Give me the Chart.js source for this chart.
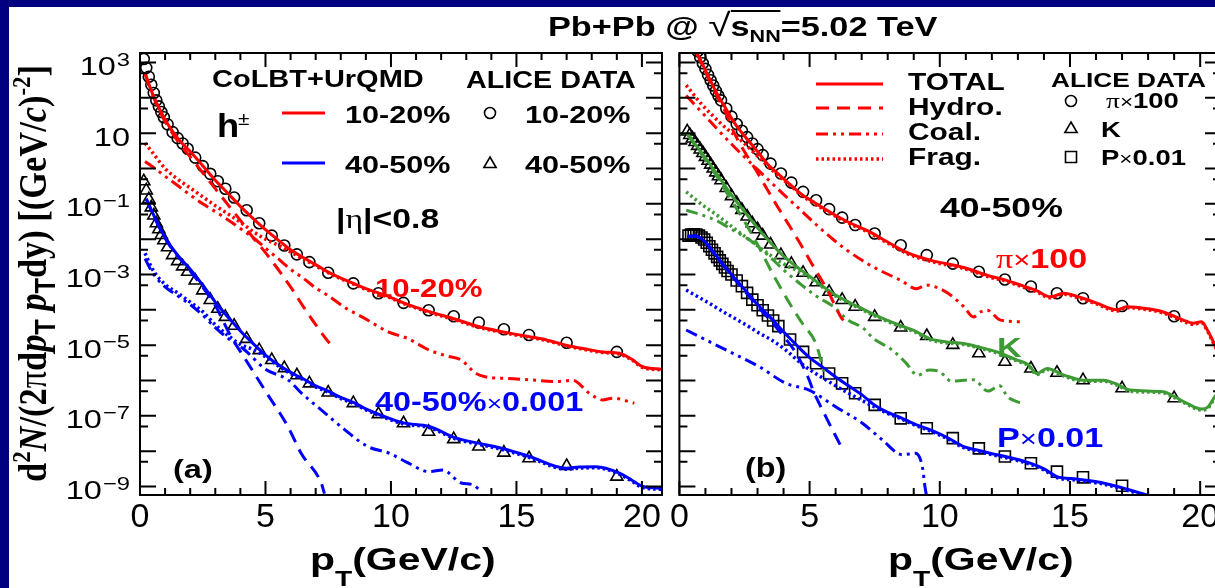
<!DOCTYPE html>
<html>
<head>
<meta charset="utf-8">
<title>CoLBT+UrQMD spectra</title>
<script src="https://cdn.jsdelivr.net/npm/chart.js@4.4.1/dist/chart.umd.min.js"></script>
<style>
  html, body { margin: 0; padding: 0; overflow: hidden; }
  body { width: 1215px; height: 588px; background: #000080; position: relative; }
  #paper { position: absolute; left: 9px; top: 7px; width: 1206px; height: 581px; background: #fff; }
  #chartA { position: absolute; left: 0; top: 0; }
  #chartB { position: absolute; left: 670px; top: 0; }
  #title { position: absolute; left: 548px; top: 12px; font: bold 27px "Liberation Sans", Arial, sans-serif;
           line-height: 27px; white-space: nowrap; transform: scaleX(1.27); transform-origin: left top; }
  #title .rad { font-weight: normal; font-size: 32px; }
  #title .ov { border-top: 2px solid #000; }
  #title sub { font-size: 17px; vertical-align: -6px; }
</style>
</head>
<body>
<div id="paper"></div>
<canvas id="chartA" width="680" height="588"></canvas>
<canvas id="chartB" width="580" height="588"></canvas>
<div id="title">Pb+Pb @ <span class="rad">&#8730;</span><span class="ov">s<sub>NN</sub></span>=5.02 TeV</div>
<script>
"use strict";

// ---- axes ----
var xTicks = [0,1,2,3,4,5,6,7,8,9,10,11,12,13,14,15,16,17,18,19,20];
var xLabelStep = 5;
var yTicks = [1e-9,5e-9,1e-8,5e-8,1e-7,5e-7,1e-6,5e-6,1e-5,5e-5,1e-4,5e-4,1e-3,5e-3,1e-2,5e-2,1e-1,5e-1,1,5,10,50,100,500,1000];
var yLabelExps = [3, 1, -1, -3, -5, -7, -9];

// ---- panel (a): h+- , ALICE data ----
var hDataPt = [0.15,0.25,0.35,0.45,0.55,0.65,0.75,0.85,0.95,1.1,1.3,1.5,1.7,1.9,2.2,2.5,2.8,3.1,3.4,3.75,4.25,4.75,5.25,5.75,6.25,6.75,7.5,8.5,9.5,10.5,11.5,12.5,13.5,14.5,15.5,17,19];
var hData1020 = [1.26e3,708,398,234,138,85.1,57.5,39.8,28.2,17.8,10.7,7.24,5.13,3.63,2.04,1.17,0.708,0.437,0.269,0.151,0.0661,0.0282,0.0126,6.61e-3,3.72e-3,2.24e-3,1.12e-3,5.62e-4,2.95e-4,1.58e-4,9.77e-5,6.61e-5,4.37e-5,2.82e-5,1.95e-5,1.17e-5,6.46e-6];
var hData4050 = [0.437,0.240,0.135,0.0794,0.0468,0.0282,0.0191,0.0132,9.33e-3,5.89e-3,3.55e-3,2.40e-3,1.70e-3,1.20e-3,6.76e-4,3.55e-4,1.91e-4,1.07e-4,6.31e-5,3.55e-5,1.51e-5,7.24e-6,3.80e-6,2.24e-6,1.41e-6,8.32e-7,4.57e-7,2.29e-7,1.12e-7,6.17e-8,3.55e-8,2.19e-8,1.35e-8,9.12e-9,6.31e-9,3.80e-9,1.91e-9];

// panel (a): CoLBT+UrQMD 10-20%
var hTotPt1020 = [0.2,0.4,0.6,0.8,1.0,1.25,1.5,1.75,2.0,2.5,3.0,3.5,4.0,4.5,5.0,5.5,6.0,6.5,7.0,7.5,8.0,8.5,9.0,9.94,10.5,11.53,12.5,13.52,14.52,15.52,16.2,16.98,17.7,18.44,19.1,19.6,20.03,20.8];
var hTot1020 = [525,200,89.1,44.7,24.0,12.6,7.24,4.57,3.02,1.20,0.468,0.200,0.0851,0.0389,0.0186,9.55e-3,5.01e-3,3.02e-3,1.91e-3,1.17e-3,7.94e-4,5.62e-4,3.98e-4,2.34e-4,1.58e-4,8.91e-5,5.62e-5,3.31e-5,2.34e-5,1.74e-5,1.41e-5,1.0e-5,7.94e-6,6.46e-6,5.89e-6,3.98e-6,2.45e-6,2.09e-6];
var hHydPt1020 = [0.2,0.4,0.6,0.8,1.0,1.25,1.5,1.75,2.0,2.5,3.0,3.5,4.0,4.5,5.0,5.5,6.0,6.5,7.0,7.5,7.75];
var hHyd1020 = [479,186,83.2,39.8,21.4,11.0,6.03,3.55,2.14,0.759,0.269,0.0955,0.0339,0.0112,4.17e-3,1.41e-3,4.47e-4,1.26e-4,3.80e-5,1.26e-5,7.94e-6];
var hCoalPt1020 = [0.2,0.6,1.0,1.5,2.0,2.5,3.0,3.5,4.0,4.5,5.0,5.5,6.0,6.5,7.0,7.5,8.2,8.9,9.94,10.64,11.53,12.2,12.8,13.39,14.0,14.59,15.5,16.58,17.24,17.9,18.44,18.84,19.7];
var hCoal1020 = [1.58,1.0,0.603,0.331,0.178,0.1,0.0603,0.0355,0.02,0.0112,5.62e-3,2.82e-3,1.41e-3,7.94e-4,4.17e-4,2.51e-4,1.12e-4,6.03e-5,2.29e-5,1.58e-5,7.24e-6,5.01e-6,3.80e-6,1.58e-6,1.20e-6,1.15e-6,1.05e-6,9.33e-7,1.02e-6,4.37e-7,2.82e-7,3.16e-7,2.29e-7];
var hFragPt1020 = [0.2,0.5,1.0,1.5,2.0,2.5,3.0,3.5,4.0,4.5,5.0,5.5,6.0,6.5,7.0,7.5,8.0,8.5,9.0,9.94,10.5,11.53,12.5,13.52,14.52,15.52,16.2,16.98,17.7,18.44,19.1,19.6,20.03,20.8];
var hFrag1020 = [5.25,2.82,1.0,0.501,0.282,0.158,0.0891,0.0525,0.0302,0.0166,0.01,6.76e-3,4.37e-3,2.75e-3,1.78e-3,1.12e-3,7.59e-4,5.37e-4,3.80e-4,2.24e-4,1.51e-4,8.51e-5,5.37e-5,3.16e-5,2.24e-5,1.66e-5,1.35e-5,9.55e-6,7.59e-6,6.17e-6,5.62e-6,3.80e-6,2.34e-6,2.0e-6];

// panel (a): CoLBT+UrQMD 40-50% (x 0.001)
var hTotPt4050 = [0.25,0.5,0.75,1.0,1.25,1.5,2.0,2.5,3.0,3.5,4.0,4.5,5.0,5.5,6.0,6.5,7.0,7.5,8.0,8.5,9.0,9.94,10.5,11.53,12.6,13.52,14.52,15.52,16.98,17.5,18.17,19.1,19.6,20.03,20.8];
var hTot4050 = [0.141,0.0562,0.0240,0.0112,6.03e-3,3.55e-3,1.41e-3,5.01e-4,1.66e-4,6.31e-5,2.51e-5,1.12e-5,5.25e-6,2.82e-6,1.70e-6,1.12e-6,7.08e-7,5.01e-7,3.31e-7,2.40e-7,1.58e-7,8.51e-8,6.31e-8,5.01e-8,2.34e-8,1.66e-8,1.15e-8,7.08e-9,3.31e-9,3.55e-9,3.63e-9,2.40e-9,1.51e-9,1.0e-9,8.91e-10];
var hHydPt4050 = [0.25,0.5,0.75,1.0,1.25,1.5,2.0,2.5,3.0,3.63,4.2,5.0,5.89,6.42,7.22,7.35];
var hHyd4050 = [0.135,0.0537,0.0229,0.0107,5.62e-3,3.31e-3,1.26e-3,4.37e-4,1.32e-4,1.74e-5,3.98e-6,5.01e-7,5.01e-8,8.71e-9,1.26e-9,6.31e-10];
var hCoalPt4050 = [0.2,0.5,1.0,1.5,2.0,2.5,3.0,3.5,4.16,5.0,5.89,6.5,7.22,8.0,9.08,9.94,10.6,11.53,12.06,12.8,13.26,13.59];
var hCoal4050 = [2.82e-3,1.12e-3,4.47e-4,2.51e-4,1.41e-4,7.08e-5,3.16e-5,1.58e-5,7.41e-6,2.09e-6,1.05e-6,3.98e-7,1.48e-7,5.01e-8,1.35e-8,8.71e-9,5.01e-9,2.63e-9,2.95e-9,1.26e-9,1.12e-9,7.24e-10];
var hFragPt4050 = [0.2,0.5,1.0,1.5,2.0,2.5,3.0,3.5,4.0,4.5,5.0,5.5,6.0,6.5,7.0,7.5,8.0,8.5,9.0,9.94,10.5,11.53,12.6,13.52,14.52,15.52,16.98,17.5,18.17,19.1,19.6,20.03,20.8];
var hFrag4050 = [3.98e-3,1.41e-3,5.25e-4,3.02e-4,1.66e-4,8.91e-5,3.80e-5,1.91e-5,1.05e-5,7.59e-6,4.68e-6,2.63e-6,1.58e-6,1.05e-6,6.61e-7,4.68e-7,3.09e-7,2.24e-7,1.48e-7,7.94e-8,5.89e-8,4.68e-8,2.19e-8,1.55e-8,1.07e-8,6.61e-9,3.09e-9,3.31e-9,3.39e-9,2.24e-9,1.41e-9,9.33e-10,8.32e-10];

// ---- panel (b): identified hadrons 40-50% , ALICE data ----
var piDataPt = [0.6,0.7,0.8,0.9,1.0,1.1,1.2,1.3,1.4,1.5,1.6,1.8,2.0,2.2,2.4,2.6,2.8,3.0,3.2,3.5,3.9,4.3,4.75,5.25,5.75,6.25,6.75,7.5,8.5,9.5,10.5,11.5,12.5,13.5,14.5,15.5,17,19];
var piData = [3.16e3,2.09e3,1.41e3,955,661,447,316,224,158,115,85.1,50.1,29.5,18.2,11.7,7.76,5.13,3.55,2.40,1.38,0.724,0.398,0.219,0.126,0.0708,0.0407,0.0251,0.0145,6.76e-3,3.55e-3,2.04e-3,1.20e-3,7.24e-4,4.57e-4,2.95e-4,2.14e-4,1.29e-4,6.61e-5];
var kDataPt = [0.3,0.4,0.5,0.6,0.7,0.8,0.9,1.0,1.1,1.2,1.3,1.4,1.5,1.6,1.8,2.0,2.2,2.4,2.6,2.8,3.0,3.2,3.5,3.9,4.3,4.75,5.25,5.75,6.25,6.75,7.5,8.5,9.5,10.5,11.5,12.5,13.5,14.5,15.5,17,19];
var kData = [11.2,8.91,7.08,5.62,4.37,3.47,2.75,2.14,1.66,1.29,1.0,0.776,0.603,0.468,0.282,0.166,0.105,0.0676,0.0437,0.0282,0.0191,0.0126,7.08e-3,3.55e-3,2.0e-3,1.12e-3,6.03e-4,3.24e-4,1.91e-4,1.23e-4,6.31e-5,3.16e-5,1.82e-5,1.02e-5,5.89e-6,3.39e-6,2.19e-6,1.66e-6,1.02e-6,6.03e-7,3.16e-7];
var pDataPt = [0.35,0.45,0.55,0.65,0.75,0.85,0.95,1.05,1.15,1.25,1.35,1.45,1.55,1.65,1.75,1.85,2.0,2.2,2.4,2.6,2.8,3.0,3.2,3.4,3.6,3.8,4.25,4.75,5.25,5.75,6.25,6.75,7.5,8.5,9.5,10.5,11.5,12.5,13.5,14.5,15.5,17];
var pData = [0.0126,0.0135,0.0138,0.0135,0.0126,0.0112,9.77e-3,7.94e-3,6.31e-3,5.01e-3,3.98e-3,3.16e-3,2.51e-3,2.0e-3,1.58e-3,1.26e-3,1.0e-3,6.76e-4,4.68e-4,3.02e-4,1.95e-4,1.35e-4,9.77e-5,6.92e-5,5.01e-5,3.47e-5,1.45e-5,6.46e-6,3.09e-6,1.58e-6,8.32e-7,4.37e-7,2.04e-7,8.51e-8,4.47e-8,2.34e-8,1.20e-8,7.08e-9,4.57e-9,2.63e-9,1.82e-9,1.05e-9];

// panel (b): pions x 100
var piTotPt = [0.65,0.8,1.0,1.2,1.4,1.6,1.8,2.0,2.2,2.5,2.75,3.0,3.39,3.75,4.2,4.66,5.2,5.94,6.5,7.22,8.0,8.75,9.77,10.3,10.92,11.94,12.5,13.22,13.7,14.24,14.75,15.52,16.0,16.8,17.18,18.0,18.58,19.35,19.73,20.05,20.3,20.6,20.8];
var piTot = [2.0e3,1.20e3,603,302,151,83.2,47.9,26.3,15.8,8.32,5.01,3.02,1.32,0.759,0.380,0.195,0.107,0.0501,0.0302,0.0174,8.32e-3,4.17e-3,2.40e-3,2.0e-3,1.58e-3,8.91e-4,7.08e-4,4.68e-4,3.55e-4,2.34e-4,2.95e-4,2.09e-4,1.58e-4,1.0e-4,1.23e-4,1.07e-4,8.71e-5,5.13e-5,4.17e-5,4.57e-5,2.51e-5,8.91e-6,5.01e-6];
var piHydPt = [0.65,1.0,1.4,1.8,2.11,3.0,3.77,4.54,5.05,5.69,6.2,6.3];
var piHyd = [1.91e3,550,132,35.5,10.0,0.759,0.0832,0.01,2.24e-3,3.55e-4,6.31e-5,5.01e-5];
var piCoalPt = [0.26,1.0,1.5,2.11,2.75,3.5,4.0,4.66,5.3,5.94,6.45,7.22,7.8,8.49,9.1,9.5,10.0,10.45,10.92,11.3,11.56,11.82,12.33,13.2];
var piCoal = [117,30.2,12.0,4.07,1.41,0.417,0.186,0.0661,0.0240,9.33e-3,4.79e-3,2.04e-3,1.20e-3,6.92e-4,3.98e-4,5.01e-4,3.98e-4,2.51e-4,1.23e-4,6.31e-5,8.71e-5,9.77e-5,5.13e-5,4.57e-5];
var piFragPt = [0.26,0.83,1.6,2.36,3.13,3.9,4.2,4.66,5.2,5.94,6.5,7.22,8.0,8.75,9.77,10.3,10.92,11.94,12.5,13.22,13.7,14.24,14.75,15.52,16.0,16.8,17.18,18.0,18.58,19.35,19.73,20.05,20.3,20.6,20.8];
var piFrag = [229,69.2,18.6,6.31,1.82,0.537,0.363,0.182,0.1,0.0468,0.0282,0.0162,7.76e-3,3.89e-3,2.24e-3,1.86e-3,1.48e-3,8.32e-4,6.61e-4,4.37e-4,3.31e-4,2.19e-4,2.75e-4,1.95e-4,1.48e-4,9.33e-5,1.15e-4,1.0e-4,8.13e-5,4.79e-5,3.89e-5,4.27e-5,2.34e-5,8.32e-6,4.68e-6];

// panel (b): kaons
var kTotPt = [0.3,0.6,1.0,1.5,2.0,2.5,3.0,3.5,4.0,4.5,5.0,5.5,6.0,6.5,7.0,7.5,8.0,8.5,9.0,9.64,10.2,10.92,11.5,12.2,12.97,13.4,13.73,14.12,14.75,15.52,16.28,16.8,17.31,18.58,19.0,19.48,20.05,20.3,20.56,20.8];
var kTot = [10.0,5.01,2.0,0.603,0.178,0.0603,0.0209,7.94e-3,3.31e-3,1.66e-3,8.91e-4,4.68e-4,2.63e-4,1.66e-4,1.10e-4,7.24e-5,5.01e-5,3.55e-5,2.63e-5,1.51e-5,1.26e-5,1.12e-5,8.91e-6,6.46e-6,3.80e-6,2.82e-6,1.58e-6,2.19e-6,1.45e-6,1.02e-6,1.02e-6,7.94e-7,5.37e-7,4.79e-7,3.55e-7,2.29e-7,1.55e-7,1.78e-7,3.47e-7,6.31e-7];
var kHydPt = [0.3,0.6,1.0,1.5,2.0,2.5,3.0,3.6,4.3,4.72,5.24,5.55];
var kHyd = [9.33,4.57,1.78,0.501,0.126,0.0316,7.08e-3,1.0e-3,1.26e-4,4.17e-5,1.12e-5,1.78e-6];
var kCoalPt = [0.26,1.0,1.5,2.0,2.75,3.4,4.02,4.7,5.3,5.9,6.5,7.03,7.44,8.18,8.7,9.15,9.6,10.0,10.45,10.92,11.3,11.85,12.3,12.6,13.1];
var kCoal = [0.0661,0.0447,0.0316,0.0191,8.91e-3,3.55e-3,1.32e-3,5.01e-4,2.34e-4,1.26e-4,5.01e-5,3.16e-5,1.58e-5,7.24e-6,3.16e-6,1.41e-6,2.0e-6,1.78e-6,9.55e-7,1.02e-6,1.05e-6,5.01e-7,7.08e-7,3.47e-7,2.29e-7];
var kFragPt = [0.26,0.83,1.5,2.11,2.75,3.39,4.0,4.5,5.0,5.5,6.0,6.5,7.0,7.5,8.0,8.5,9.0,9.64,10.2,10.92,11.5,12.2,12.97,13.4,13.73,14.12,14.75,15.52,16.28,16.8,17.31,18.58,19.0,19.48,20.05,20.3,20.56,20.8];
var kFrag = [0.219,0.1,0.0447,0.02,8.91e-3,3.98e-3,2.0e-3,1.32e-3,7.94e-4,4.37e-4,2.45e-4,1.55e-4,1.02e-4,6.76e-5,4.68e-5,3.31e-5,2.45e-5,1.41e-5,1.17e-5,1.05e-5,8.32e-6,6.03e-6,3.55e-6,2.63e-6,1.48e-6,2.04e-6,1.35e-6,9.55e-7,9.55e-7,7.41e-7,5.01e-7,4.47e-7,3.31e-7,2.14e-7,1.45e-7,1.66e-7,3.24e-7,5.89e-7];

// panel (b): protons x 0.01
var pTotPt = [0.3,0.6,1.0,1.5,2.0,2.5,3.0,3.5,4.0,4.5,5.0,5.5,6.0,6.5,7.0,7.5,8.0,8.5,9.0,9.64,10.3,10.92,11.5,12.2,12.8,13.47,14.0,14.5,15.26,16.28,17.05,17.95];
var pTot = [0.0120,0.0126,8.32e-3,2.82e-3,1.0e-3,3.80e-4,1.41e-4,6.03e-5,2.40e-5,1.0e-5,4.47e-6,2.40e-6,1.26e-6,7.08e-7,3.98e-7,2.0e-7,1.26e-7,8.91e-8,6.03e-8,3.98e-8,2.40e-8,1.35e-8,1.05e-8,7.94e-9,6.31e-9,4.57e-9,3.16e-9,1.91e-9,1.62e-9,1.26e-9,8.91e-10,5.75e-10];
var pHydPt = [0.3,0.6,1.0,1.5,2.0,2.5,3.0,3.5,4.0,4.5,4.98,5.13,5.49,6.21,6.3];
var pHyd = [0.0117,0.0123,7.94e-3,2.69e-3,9.33e-4,3.47e-4,1.26e-4,5.01e-5,1.78e-5,5.62e-6,1.05e-6,5.37e-7,1.48e-7,1.35e-8,1.0e-8];
var pCoalPt = [0.26,1.53,3.07,4.09,4.98,6.0,7.03,7.79,8.56,9.07,9.33,9.45,9.55];
var pCoal = [2.69e-5,9.12e-6,2.45e-6,8.32e-7,5.37e-7,1.82e-7,6.17e-8,2.09e-8,7.94e-9,8.71e-9,3.63e-9,7.94e-10,3.98e-10];
var pFragPt = [0.26,1.0,1.79,2.5,3.07,3.6,4.09,4.73,5.62,6.5,7.5,8.0,8.5,9.0,9.64,10.3,10.92,11.5,12.2,12.8,13.47,14.0,14.5,15.26,16.28,17.05,17.95];
var pFrag = [3.63e-4,1.78e-4,7.94e-5,3.98e-5,2.19e-5,1.32e-5,7.24e-6,2.82e-6,1.05e-6,4.37e-7,1.78e-7,1.17e-7,8.32e-8,5.62e-8,3.72e-8,2.24e-8,1.26e-8,9.77e-9,7.41e-9,5.89e-9,4.27e-9,2.95e-9,1.78e-9,1.51e-9,1.17e-9,8.32e-10,5.37e-10];

// ---- styles ----
var RED = '#ff0000', BLUE = '#0000ff', GREEN = '#3d9a34';
var SANS = '"Liberation Sans", Arial, Helvetica, sans-serif';
var SERIF = '"Liberation Serif", "Times New Roman", serif';
var SOLID = [], DASH = [13, 8], DASHDOT = [12, 5, 3, 5, 3, 5], DOT = [2.5, 3];

function pts(xs, ys) {
    return xs.map(function(x, i) { return { x: x, y: ys[i] }; });
}
function curve(xs, ys, color, dash) {
    return {
        data: pts(xs, ys), borderColor: color, borderDash: dash,
        borderWidth: dash === DOT ? 3.5 : 3, pointRadius: 0, fill: false,
        cubicInterpolationMode: 'monotone'
    };
}
function markers(xs, ys, style, r) {
    return {
        data: pts(xs, ys), showLine: false, pointStyle: style, pointRadius: r,
        pointBorderColor: '#000', pointBackgroundColor: 'rgba(0,0,0,0)', pointBorderWidth: 1.6
    };
}
function isDecade(v) {
    var l = Math.log10(v);
    return Math.abs(l - Math.round(l)) < 1e-6;
}

// stretched text (the figure's lettering is wide)
function txt(ctx, s, x, y, o) {
    var sx = o.sx || 1.3;
    ctx.save();
    ctx.font = (o.italic ? 'italic ' : '') + (o.bold === false ? '' : 'bold ') + o.size + 'px ' + (o.family || SANS);
    ctx.fillStyle = o.color || '#000';
    ctx.textBaseline = 'alphabetic';
    var w = ctx.measureText(s).width;
    ctx.translate(x, y);
    ctx.scale(sx, 1);
    var dx = o.align === 'right' ? -w : (o.align === 'center' ? -w / 2 : 0);
    ctx.fillText(s, dx, 0);
    ctx.restore();
    return w * sx;
}
function runs(ctx, x, y, parts, base) {
    parts.forEach(function(p) {
        var o = Object.assign({}, base, p);
        x += txt(ctx, p.t, x, y + (p.dy || 0), o);
    });
    return x;
}
function sample(ctx, x1, x2, y, color, dash) {
    ctx.save();
    ctx.strokeStyle = color;
    ctx.lineWidth = dash === DOT ? 3.5 : 3;
    ctx.setLineDash(dash);
    ctx.beginPath(); ctx.moveTo(x1, y); ctx.lineTo(x2, y); ctx.stroke();
    ctx.restore();
}
function mark(ctx, style, x, y) {
    ctx.save();
    ctx.strokeStyle = '#000';
    ctx.lineWidth = 1.6;
    ctx.beginPath();
    if (style === 'circle') {
        ctx.arc(x, y, 5.5, 0, Math.PI * 2);
    } else if (style === 'triangle') {
        ctx.moveTo(x, y - 7); ctx.lineTo(x + 6.1, y + 3.5); ctx.lineTo(x - 6.1, y + 3.5); ctx.closePath();
    } else {
        ctx.rect(x - 5.5, y - 5.5, 11, 11);
    }
    ctx.stroke();
    ctx.restore();
}

function xTitle(ctx, x) {
    runs(ctx, x, 570, [
        { t: 'p' },
        { t: 'T', size: 22, dy: 16 },
        { t: '(GeV/c)' }
    ], { size: 32, sx: 1.28 });
}

function frame(name, yLabels, extra) {
    return {
        id: 'frame' + name,
        afterDatasetsDraw: function(chart) {
            var ctx = chart.ctx, a = chart.chartArea;
            var xs = chart.scales.x, ys = chart.scales.y;
            ctx.save();
            ctx.strokeStyle = '#000';
            ctx.lineWidth = 2;
            ctx.setLineDash([]);
            ctx.beginPath();
            xs.ticks.forEach(function(t) {
                var px = xs.getPixelForValue(t.value);
                var len = t.value % xLabelStep === 0 ? 14 : 7;
                ctx.moveTo(px, a.bottom); ctx.lineTo(px, a.bottom - len);
                ctx.moveTo(px, a.top); ctx.lineTo(px, a.top + len);
            });
            ys.ticks.forEach(function(t) {
                var py = ys.getPixelForValue(t.value);
                var len = isDecade(t.value) ? 16 : 8;
                ctx.moveTo(a.left, py); ctx.lineTo(a.left + len, py);
                ctx.moveTo(a.right, py); ctx.lineTo(a.right - len, py);
            });
            ctx.stroke();
            ctx.strokeRect(a.left, a.top, a.right - a.left, a.bottom - a.top);

            xs.ticks.forEach(function(t) {
                if (t.value % xLabelStep !== 0) return;
                txt(ctx, String(t.value), xs.getPixelForValue(t.value), 527,
                    { size: 34, bold: false, sx: 1, align: 'center' });
            });
            if (yLabels) {
                ys.ticks.forEach(function(t) {
                    if (!isDecade(t.value)) return;
                    var e = Math.round(Math.log10(t.value));
                    if (yLabelExps.indexOf(e) < 0) return;
                    var py = ys.getPixelForValue(t.value);
                    var right = 130;
                    if (e !== 1) {
                        var sup = e < 0 ? '\u2212' + (-e) : String(e);
                        right -= txt(ctx, sup, right, py + 3, { size: 19, bold: false, sx: 1.25, align: 'right' }) + 1;
                    }
                    txt(ctx, '10', right, py + 12.5, { size: 26, bold: false, sx: 1.25, align: 'right' });
                });
            }
            extra(ctx, chart);
            ctx.restore();
        }
    };
}

function drawYTitle(ctx) {
    var parts = [
        { t: 'd' }, { t: '2', size: 20, dy: -12 }, { t: 'N', italic: true },
        { t: '/(2' }, { t: '\u03c0', bold: false }, { t: 'd' }, { t: 'p', italic: true },
        { t: 'T', size: 22, dy: 7, family: SANS }, { t: ' ' }, { t: 'p', italic: true },
        { t: 'T', size: 22, dy: 7, family: SANS }, { t: 'dy) [(GeV/' }, { t: 'c', italic: true },
        { t: ')' }, { t: '-2', size: 20, dy: -12 }, { t: ']' }
    ];
    var total = 0;
    ctx.save();
    parts.forEach(function(p) {
        ctx.font = (p.italic ? 'italic ' : '') + (p.bold === false ? '' : 'bold ') + (p.size || 30) + 'px ' + (p.family || SERIF);
        total += ctx.measureText(p.t).width;
    });
    var len = 417;
    ctx.translate(46, 273.5 + len / 2);
    ctx.rotate(-Math.PI / 2);
    ctx.scale(len / total, 1.3);
    runs(ctx, 0, 0, parts, { size: 30, family: SERIF, sx: 1 });
    ctx.restore();
}

function panelA(ctx) {
    drawYTitle(ctx);
    txt(ctx, 'CoLBT+UrQMD', 212, 87, { size: 23, sx: 1.26 });
    txt(ctx, 'ALICE DATA', 466, 88, { size: 23, sx: 1.25 });
    txt(ctx, 'h', 217, 137, { size: 33, sx: 1.1 });
    txt(ctx, '\u00b1', 238, 125, { size: 19, bold: false, sx: 1.1 });
    sample(ctx, 282, 325, 113, RED, SOLID);
    sample(ctx, 282, 325, 163, BLUE, SOLID);
    txt(ctx, '10-20%', 345, 123, { size: 23, sx: 1.33 });
    txt(ctx, '40-50%', 345, 173, { size: 23, sx: 1.33 });
    mark(ctx, 'circle', 490, 113);
    mark(ctx, 'triangle', 490, 164);
    txt(ctx, '10-20%', 525, 123, { size: 23, sx: 1.33 });
    txt(ctx, '40-50%', 525, 173, { size: 23, sx: 1.33 });
    runs(ctx, 336, 228, [{ t: '|' }, { t: '\u03b7', bold: false, family: SERIF }, { t: '|<0.8' }], { size: 27, sx: 1.25 });
    txt(ctx, '10-20%', 375, 297, { size: 26, sx: 1.2, color: RED });
    runs(ctx, 375, 411, [{ t: '40-50%' }, { t: '\u00d7', bold: false, size: 22 }, { t: '0.001' }], { size: 27, sx: 1.2, color: BLUE });
    txt(ctx, '(a)', 173, 478, { size: 26, sx: 1.25 });
    xTitle(ctx, 310);
}

var OFFB = 670;
function panelB(ctx) {
    var L = function(x) { return x - OFFB; };
    sample(ctx, L(816), L(883), 84, RED, SOLID);
    sample(ctx, L(816), L(883), 108, RED, DASH);
    sample(ctx, L(816), L(883), 134, RED, DASHDOT);
    sample(ctx, L(816), L(883), 159, RED, DOT);
    txt(ctx, 'TOTAL', L(908), 90, { size: 23, sx: 1.3 });
    txt(ctx, 'Hydro.', L(908), 115, { size: 23, sx: 1.3 });
    txt(ctx, 'Coal.', L(908), 140, { size: 23, sx: 1.3 });
    txt(ctx, 'Frag.', L(908), 165, { size: 23, sx: 1.3 });
    txt(ctx, 'ALICE DATA', L(1051), 87, { size: 21, sx: 1.25 });
    mark(ctx, 'circle', L(1071), 101);
    mark(ctx, 'triangle', L(1071), 129);
    mark(ctx, 'rect', L(1071), 157);
    runs(ctx, L(1106), 108, [{ t: '\u03c0', bold: false, family: SERIF }, { t: '\u00d7', bold: false, size: 18 }, { t: '100' }], { size: 22, sx: 1.25 });
    txt(ctx, 'K', L(1101), 137, { size: 22, sx: 1.25 });
    runs(ctx, L(1101), 165, [{ t: 'P' }, { t: '\u00d7', bold: false, size: 18 }, { t: '0.01' }], { size: 22, sx: 1.25 });
    txt(ctx, '40-50%', L(940), 217, { size: 27, sx: 1.32 });
    runs(ctx, L(996), 268, [{ t: '\u03c0', bold: false, family: SERIF }, { t: '\u00d7', bold: false, size: 24 }, { t: '100' }], { size: 28, sx: 1.22, color: RED });
    txt(ctx, 'K', L(997), 357, { size: 28, sx: 1.22, color: GREEN });
    runs(ctx, L(997), 447, [{ t: 'P' }, { t: '\u00d7', bold: false, size: 24 }, { t: '0.01' }], { size: 28, sx: 1.22, color: BLUE });
    txt(ctx, '(b)', L(745), 477, { size: 27, sx: 1.2 });
    xTitle(ctx, L(888));
}

function scalesFor(yWidth) {
    return {
        x: {
            type: 'linear', min: 0, max: 20.8,
            grid: { display: false, drawTicks: false }, border: { display: false },
            ticks: { display: false },
            afterBuildTicks: function(s) { s.ticks = xTicks.map(function(v) { return { value: v }; }); },
            afterFit: function(s) { s.height = 93; }
        },
        y: {
            type: 'logarithmic', min: 5.75e-10, max: 1862,
            grid: { display: false, drawTicks: false }, border: { display: false },
            ticks: { display: false },
            afterBuildTicks: function(s) { s.ticks = yTicks.map(function(v) { return { value: v }; }); },
            afterFit: function(s) { s.width = yWidth; }
        }
    };
}
function baseOptions(pad, yWidth) {
    return {
        responsive: false, animation: false, events: [],
        layout: { padding: pad },
        plugins: { legend: { display: false }, tooltip: { enabled: false } },
        scales: scalesFor(yWidth)
    };
}

// lines first (drawn on top), markers last
var setsA = [
    curve(hTotPt1020, hTot1020, RED, SOLID),
    curve(hHydPt1020, hHyd1020, RED, DASH),
    curve(hCoalPt1020, hCoal1020, RED, DASHDOT),
    curve(hFragPt1020, hFrag1020, RED, DOT),
    curve(hTotPt4050, hTot4050, BLUE, SOLID),
    curve(hHydPt4050, hHyd4050, BLUE, DASH),
    curve(hCoalPt4050, hCoal4050, BLUE, DASHDOT),
    curve(hFragPt4050, hFrag4050, BLUE, DOT),
    markers(hDataPt, hData1020, 'circle', 5.5),
    markers(hDataPt, hData4050, 'triangle', 7)
];
var setsB = [
    curve(piTotPt, piTot, RED, SOLID),
    curve(piHydPt, piHyd, RED, DASH),
    curve(piCoalPt, piCoal, RED, DASHDOT),
    curve(piFragPt, piFrag, RED, DOT),
    curve(kTotPt, kTot, GREEN, SOLID),
    curve(kHydPt, kHyd, GREEN, DASH),
    curve(kCoalPt, kCoal, GREEN, DASHDOT),
    curve(kFragPt, kFrag, GREEN, DOT),
    curve(pTotPt, pTot, BLUE, SOLID),
    curve(pHydPt, pHyd, BLUE, DASH),
    curve(pCoalPt, pCoal, BLUE, DASHDOT),
    curve(pFragPt, pFrag, BLUE, DOT),
    markers(piDataPt, piData, 'circle', 5.5),
    markers(kDataPt, kData, 'triangle', 7),
    markers(pDataPt, pData, 'rect', 7.8)
];

new Chart(document.getElementById('chartA').getContext('2d'), {
    type: 'line',
    data: { datasets: setsA },
    options: baseOptions({ left: 0, top: 53, right: 18, bottom: 0 }, 140),
    plugins: [frame('A', true, panelA)]
});
new Chart(document.getElementById('chartB').getContext('2d'), {
    type: 'line',
    data: { datasets: setsB },
    options: baseOptions({ left: 0, top: 53, right: 29, bottom: 0 }, 8),
    plugins: [frame('B', false, panelB)]
});
</script>
</body>
</html>
